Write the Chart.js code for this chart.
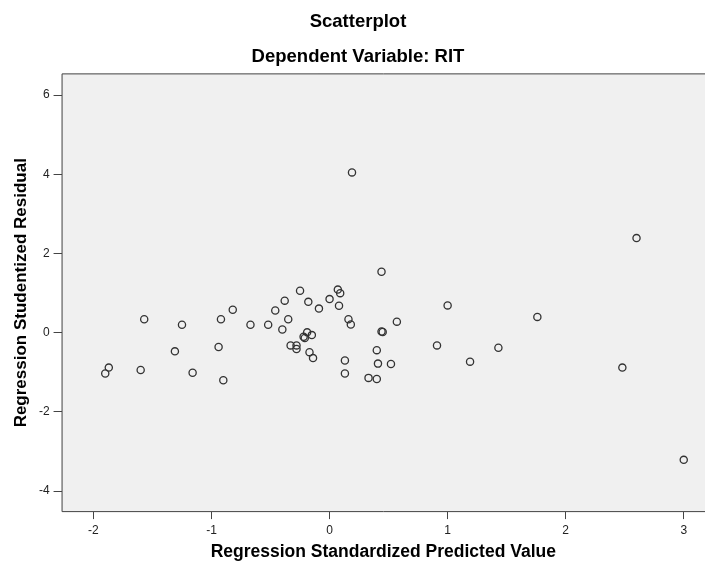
<!DOCTYPE html>
<html>
<head>
<meta charset="utf-8">
<script src="https://cdn.jsdelivr.net/npm/chart.js@4/dist/chart.umd.min.js"></script>
<style>
  html, body { margin: 0; padding: 0; background: #fff; overflow: hidden; }
  #wrap { width: 705px; height: 563px; }
  canvas { display: block; }
</style>
</head>
<body>
<div id="wrap"><canvas id="scatter" width="705" height="563"></canvas></div>
<script>
// Regression standardized predicted value (x) vs studentized residual (y)
const predicted = [
  -1.90, -1.87, -1.60, -1.57, -1.31, -1.25, -1.16, -0.94, -0.92, -0.90,
  -0.82, -0.67, -0.52, -0.46, -0.40, -0.38, -0.35, -0.33, -0.28, -0.28,
  -0.25, -0.22, -0.21, -0.19, -0.15, -0.18, -0.17, -0.14, -0.09, 0.00,
  0.07, 0.09, 0.08, 0.13, 0.13, 0.16, 0.18, 0.19, 0.33, 0.40,
  0.40, 0.41, 0.44, 0.45, 0.44, 0.52, 0.57, 0.91, 1.00, 1.19,
  1.43, 1.76, 2.48, 2.60, 3.00
];
const residual = [
  -1.03, -0.88, -0.94, 0.34, -0.47, 0.20, -1.01, -0.36, 0.34, -1.20,
  0.58, 0.20, 0.20, 0.56, 0.08, 0.81, 0.34, -0.32, -0.32, -0.41,
  1.06, -0.10, -0.13, 0.01, -0.06, 0.78, -0.49, -0.64, 0.61, 0.85,
  1.09, 1.00, 0.68, -0.70, -1.03, 0.34, 0.21, 4.05, -1.14, -1.17,
  -0.44, -0.78, 0.03, 0.02, 1.54, -0.79, 0.28, -0.32, 0.69, -0.73,
  -0.38, 0.40, -0.88, 2.39, -3.21
];
const xTickValues = [-2, -1, 0, 1, 2, 3];
const yTickValues = [-4, -2, 0, 2, 4, 6];

const points = predicted.map((x, i) => ({ x: x, y: residual[i] }));

// grey plot background + frame like SPSS output
const plotBackground = {
  id: 'plotBackground',
  beforeDraw(chart) {
    const a = chart.chartArea;
    const ctx = chart.ctx;
    ctx.save();
    ctx.fillStyle = '#f0f0f0';
    ctx.fillRect(a.left, a.top, a.right - a.left, a.bottom - a.top);
    ctx.strokeStyle = '#444';
    ctx.lineWidth = 1;
    ctx.beginPath();
    ctx.moveTo(a.right, a.top + 0.5);
    ctx.lineTo(a.left + 0.5, a.top + 0.5);
    ctx.lineTo(a.left + 0.5, a.bottom - 0.5);
    ctx.lineTo(a.right, a.bottom - 0.5);
    ctx.stroke();
    ctx.restore();
  }
};

const fontFamily = '"Liberation Sans", Arial, sans-serif';

new Chart(document.getElementById('scatter').getContext('2d'), {
  type: 'scatter',
  data: {
    datasets: [{
      data: points,
      pointStyle: 'circle',
      pointRadius: 3.6,
      pointHoverRadius: 3.6,
      borderWidth: 1.3,
      borderColor: '#333',
      backgroundColor: 'rgba(0,0,0,0)'
    }]
  },
  options: {
    responsive: false,
    animation: false,
    layout: { autoPadding: false, padding: { top: 0, right: 0, bottom: 0, left: 11 } },
    plugins: {
      legend: { display: false },
      tooltip: { enabled: false },
      title: {
        display: true,
        text: 'Scatterplot',
        color: '#000',
        font: { family: fontFamily, size: 18.5, weight: 'bold' },
        padding: { top: 11, bottom: 13 }
      },
      subtitle: {
        display: true,
        text: 'Dependent Variable: RIT',
        color: '#000',
        font: { family: fontFamily, size: 18.5, weight: 'bold' },
        padding: { top: 0, bottom: 5 }
      }
    },
    scales: {
      x: {
        type: 'linear',
        min: -2.27,
        max: 3.18,
        afterBuildTicks: s => { s.ticks = xTickValues.map(v => ({ value: v })); },
        grid: { display: true, drawOnChartArea: false, drawTicks: true, tickLength: 7, color: '#444' },
        border: { display: false },
        ticks: { color: '#222', font: { family: fontFamily, size: 12 }, padding: 4 },
        title: {
          display: true,
          text: 'Regression Standardized Predicted Value',
          color: '#000',
          font: { family: fontFamily, size: 17.5, weight: 'bold' },
          padding: { top: 0.5, bottom: 0 }
        }
      },
      y: {
        type: 'linear',
        min: -4.53,
        max: 6.55,
        afterBuildTicks: s => { s.ticks = yTickValues.map(v => ({ value: v })); },
        grid: { display: true, drawOnChartArea: false, drawTicks: true, tickLength: 8, color: '#444' },
        border: { display: false },
        ticks: { color: '#222', font: { family: fontFamily, size: 12 }, padding: 4 },
        title: {
          display: true,
          text: 'Regression Studentized Residual',
          color: '#000',
          font: { family: fontFamily, size: 17, weight: 'bold' },
          padding: { top: 0, bottom: 3.5 }
        }
      }
    }
  },
  plugins: [plotBackground]
});
</script>
</body>
</html>
